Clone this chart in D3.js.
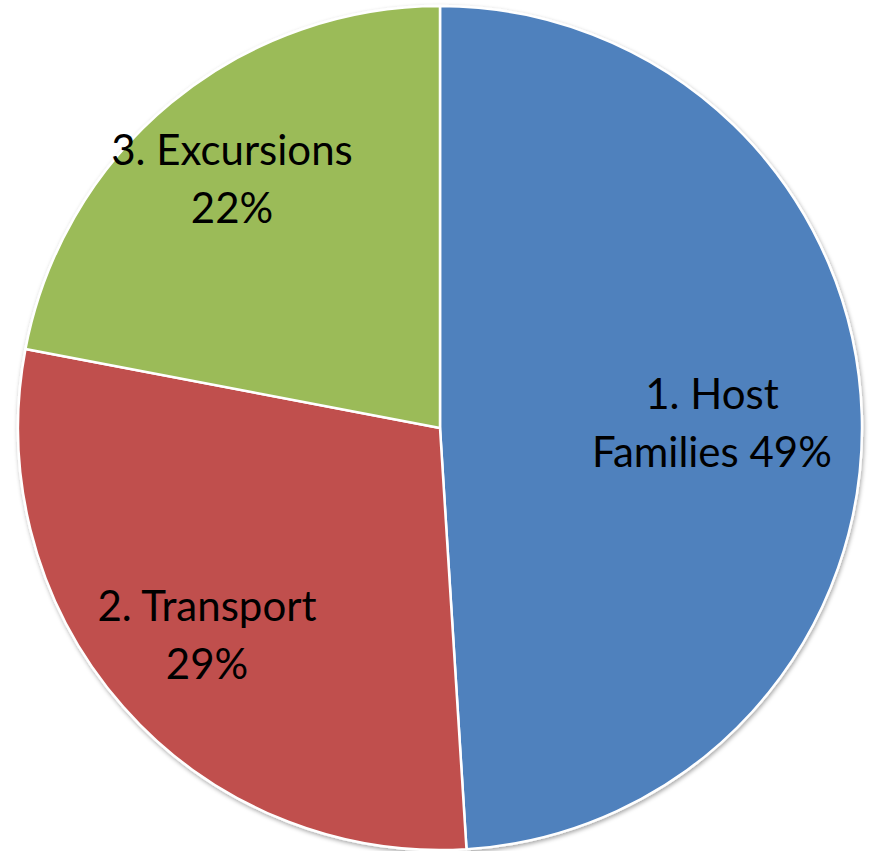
<!DOCTYPE html>
<html>
<head>
<meta charset="utf-8">
<script src="https://cdn.jsdelivr.net/npm/d3@7"></script>
<style>
  html, body { margin: 0; padding: 0; background: #fff; }
  svg { display: block; }
</style>
</head>
<body>
<svg id="chart"></svg>
<script>
// chart data
const categories = ["1. Host Families", "2. Transport", "3. Excursions"];
const values = [49, 29, 22];
const colors = ["#4F81BD", "#C0504D", "#9BBB59"];
// label lines as they wrap in the picture
const labelLines = [["1. Host", "Families 49%"], ["2. Transport", "29%"], ["3. Excursions", "22%"]];
const labelPos = [[712, 424], [207, 636], [232, 180]];

const width = 870, height = 851;
const cx = 440, cy = 428, radius = 422;

const svg = d3.select("#chart")
    .attr("width", width)
    .attr("height", height);

const defs = svg.append("defs");
const f = defs.append("filter").attr("id", "shadow")
    .attr("x", "-10%").attr("y", "-10%").attr("width", "120%").attr("height", "120%");
f.append("feDropShadow")
    .attr("dx", 1).attr("dy", 2).attr("stdDeviation", 2)
    .attr("flood-color", "#000").attr("flood-opacity", 0.35);

const g = svg.append("g")
    .attr("transform", `translate(${cx},${cy})`);

const pie = d3.pie().sort(null).value(d => d);
const arc = d3.arc().innerRadius(0).outerRadius(radius);
const arcs = pie(values);

g.append("g")
    .attr("filter", "url(#shadow)")
    .selectAll("path")
    .data(arcs)
    .enter()
    .append("path")
    .attr("d", arc)
    .attr("fill", (d, i) => colors[i])
    .attr("stroke", "#fff")
    .attr("stroke-width", 2.5)
    .attr("stroke-linejoin", "round");

const labels = svg.append("g")
    .selectAll("text")
    .data(categories)
    .enter()
    .append("text")
    .attr("x", (d, i) => labelPos[i][0])
    .attr("y", (d, i) => labelPos[i][1])
    .attr("text-anchor", "middle")
    .attr("font-family", "Lato, 'Open Sans', sans-serif")
    .attr("font-size", 42)
    .attr("fill", "#000");

labels.each(function(d, i) {
    const t = d3.select(this);
    const lines = labelLines[i];
    lines.forEach((ln, j) => {
        t.append("tspan")
            .attr("x", labelPos[i][0])
            .attr("dy", j === 0 ? -29 + 14 : 58)
            .text(ln);
    });
});
</script>
</body>
</html>
